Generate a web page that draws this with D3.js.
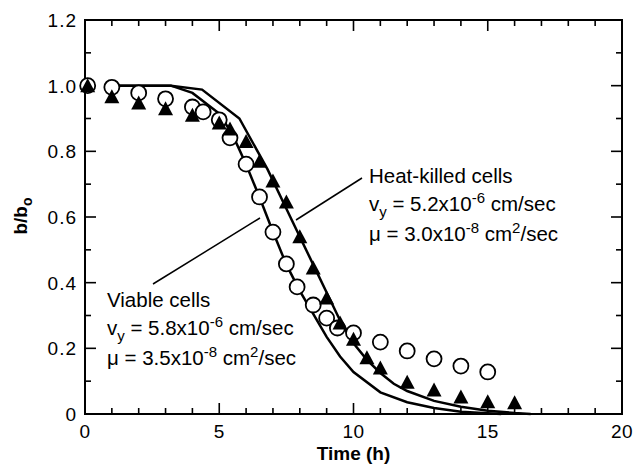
<!DOCTYPE html>
<html>
<head>
<meta charset="utf-8">
<script src="https://cdn.jsdelivr.net/npm/d3@7"></script>
<style>
  body { margin: 0; background: #fff; }
  text { font-family: "Liberation Sans", Arial, Helvetica, sans-serif; fill: #000; }
</style>
</head>
<body>
<div id="chart"></div>
<script>
// measured points: viable cells (open circles)
var viableT = [0.1, 1, 2, 3, 4, 4.4, 5, 5.4, 6, 6.5, 7, 7.5, 7.9, 8.5, 9, 9.4, 10, 11, 12, 13, 14, 15];
var viableV = [1.0, 0.995, 0.978, 0.96, 0.935, 0.92, 0.896, 0.841, 0.761, 0.661, 0.554, 0.457, 0.387, 0.332, 0.292, 0.262, 0.247, 0.219, 0.192, 0.168, 0.146, 0.128];

// measured points: heat-killed cells (filled triangles)
var killedT = [0.1, 1, 2, 3, 4, 5, 5.4, 6, 6.5, 7, 7.5, 8, 8.5, 9, 9.5, 10, 10.5, 11, 12, 13, 14, 15, 16];
var killedV = [1.0, 0.966, 0.947, 0.93, 0.91, 0.886, 0.868, 0.83, 0.77, 0.71, 0.646, 0.54, 0.445, 0.353, 0.277, 0.228, 0.171, 0.14, 0.097, 0.073, 0.052, 0.037, 0.034];

// model curves
var viableFitT = [1, 3.2, 4.0, 5, 5.5, 6, 6.5, 7, 7.5, 8, 8.5, 9, 9.5, 10, 11, 12, 13, 14, 15, 15.5];
var viableFitV = [1.0, 1.0, 0.978, 0.915, 0.85, 0.76, 0.66, 0.555, 0.455, 0.375, 0.305, 0.235, 0.175, 0.128, 0.066, 0.036, 0.018, 0.007, 0.002, 0];
var killedFitT = [1, 3.2, 4.36, 5.75, 6.8, 7.5, 8, 8.5, 9, 9.5, 10, 10.5, 11, 11.5, 12, 13, 14, 15, 16, 16.6];
var killedFitV = [1.0, 1.0, 0.988, 0.90, 0.745, 0.625, 0.54, 0.455, 0.37, 0.285, 0.215, 0.165, 0.125, 0.092, 0.07, 0.04, 0.022, 0.01, 0.003, 0];

var xTicks = [0, 5, 10, 15, 20];
var yTicks = [0, 0.2, 0.4, 0.6, 0.8, 1.0, 1.2];
var yTickLabels = ["0", "0.2", "0.4", "0.6", "0.8", "1.0", "1.2"];

var width = 635, height = 465;
var margin = {top: 20, right: 13, bottom: 51, left: 85};

var svg = d3.select("#chart")
  .append("svg")
    .attr("width", width)
    .attr("height", height);

var x = d3.scaleLinear()
  .domain([0, 20])
  .range([margin.left, width - margin.right]);

var y = d3.scaleLinear()
  .domain([0, 1.2])
  .range([height - margin.bottom, margin.top]);

var zip = function(a, b) { return a.map(function(d, i) { return [d, b[i]]; }); };

// frame
svg.append("rect")
  .attr("x", x(0)).attr("y", y(1.2))
  .attr("width", x(20) - x(0)).attr("height", y(0) - y(1.2))
  .attr("fill", "none").attr("stroke", "#000").attr("stroke-width", 2);

// ticks, all pointing inward, on all four sides
var major = 11, minor = 6;
d3.range(0, 21, 1).forEach(function(t) {
  var len = (t % 5 === 0) ? major : minor;
  svg.append("line").attr("x1", x(t)).attr("x2", x(t))
    .attr("y1", y(0)).attr("y2", y(0) - len)
    .attr("stroke", "#000").attr("stroke-width", 1.6);
  svg.append("line").attr("x1", x(t)).attr("x2", x(t))
    .attr("y1", y(1.2)).attr("y2", y(1.2) + len)
    .attr("stroke", "#000").attr("stroke-width", 1.6);
});
d3.range(0, 13, 1).forEach(function(k) {
  var v = k / 10;
  var len = (k % 2 === 0) ? major : minor;
  svg.append("line").attr("x1", x(0)).attr("x2", x(0) + len)
    .attr("y1", y(v)).attr("y2", y(v))
    .attr("stroke", "#000").attr("stroke-width", 1.6);
  svg.append("line").attr("x1", x(20)).attr("x2", x(20) - len)
    .attr("y1", y(v)).attr("y2", y(v))
    .attr("stroke", "#000").attr("stroke-width", 1.6);
});

// tick labels
svg.selectAll(".xlab")
  .data(xTicks)
  .enter().append("text")
    .attr("x", function(d) { return x(d); })
    .attr("y", 438)
    .attr("text-anchor", "middle")
    .attr("font-size", 19)
    .attr("letter-spacing", 0.5)
    .text(function(d) { return d; });

svg.selectAll(".ylab")
  .data(yTicks)
  .enter().append("text")
    .attr("x", x(0) - 8)
    .attr("y", function(d) { return y(d); })
    .attr("dy", "0.36em")
    .attr("text-anchor", "end")
    .attr("font-size", 19)
    .attr("letter-spacing", 1)
    .text(function(d, i) { return yTickLabels[i]; });

// axis titles
svg.append("text")
  .attr("x", x(10))
  .attr("y", 460)
  .attr("text-anchor", "middle")
  .attr("font-size", 19)
  .attr("font-weight", "bold")
  .text("Time (h)");

var yt = svg.append("text")
  .attr("transform", "translate(27,216) rotate(-90)")
  .attr("text-anchor", "middle")
  .attr("font-size", 19)
  .attr("font-weight", "bold");
yt.append("tspan").text("b/b");
yt.append("tspan").attr("font-size", 14).attr("dy", 5).text("o");

// model curves
var line = d3.line()
  .x(function(d) { return x(d[0]); })
  .y(function(d) { return y(d[1]); });

svg.append("path")
  .datum(zip(viableFitT, viableFitV))
  .attr("d", line)
  .attr("fill", "none").attr("stroke", "#000").attr("stroke-width", 2.5);

svg.append("path")
  .datum(zip(killedFitT, killedFitV))
  .attr("d", line)
  .attr("fill", "none").attr("stroke", "#000").attr("stroke-width", 2.5);

// markers
svg.selectAll(".viable")
  .data(zip(viableT, viableV))
  .enter().append("circle")
    .attr("cx", function(d) { return x(d[0]); })
    .attr("cy", function(d) { return y(d[1]); })
    .attr("r", 7.5)
    .attr("fill", "#fff")
    .attr("stroke", "#000")
    .attr("stroke-width", 1.8);

svg.selectAll(".killed")
  .data(zip(killedT, killedV))
  .enter().append("path")
    .attr("d", "M0,-7.5L7.5,6.5L-7.5,6.5Z")
    .attr("transform", function(d) { return "translate(" + x(d[0]) + "," + y(d[1]) + ")"; })
    .attr("fill", "#000");

// annotations
var note = function(lx, ly, title, vy, vyExp, mu, muExp) {
  svg.append("text").attr("x", lx).attr("y", ly).attr("font-size", 20.5).text(title);

  var t1 = svg.append("text").attr("x", lx).attr("y", ly + 28).attr("font-size", 20.5);
  t1.append("tspan").text("v");
  t1.append("tspan").attr("font-size", 15).attr("dy", 6).text("y");
  t1.append("tspan").attr("dy", -6).text(" = " + vy + "x10");
  t1.append("tspan").attr("font-size", 15).attr("dy", -8).text(vyExp);
  t1.append("tspan").attr("dy", 8).text(" cm/sec");

  var t2 = svg.append("text").attr("x", lx).attr("y", ly + 58).attr("font-size", 20.5);
  t2.append("tspan").text("\u03bc = " + mu + "x10");
  t2.append("tspan").attr("font-size", 15).attr("dy", -8).text(muExp);
  t2.append("tspan").attr("dy", 8).text(" cm");
  t2.append("tspan").attr("font-size", 15).attr("dy", -8).text("2");
  t2.append("tspan").attr("dy", 8).text("/sec");
};

note(369, 183, "Heat-killed cells", "5.2", "-6", "3.0", "-8");
note(107, 307, "Viable cells", "5.8", "-6", "3.5", "-8");

// leader lines
svg.append("line").attr("x1", 296).attr("y1", 220).attr("x2", 362).attr("y2", 178)
  .attr("stroke", "#000").attr("stroke-width", 1.5);
svg.append("line").attr("x1", 153).attr("y1", 284).attr("x2", 260).attr("y2", 218)
  .attr("stroke", "#000").attr("stroke-width", 1.5);
</script>
</body>
</html>
